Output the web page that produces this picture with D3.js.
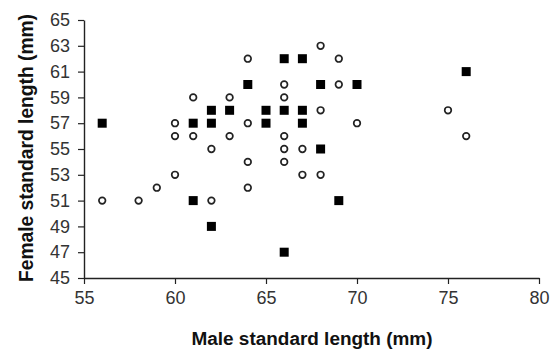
<!DOCTYPE html>
<html>
<head>
<meta charset="utf-8">
<script src="https://cdn.jsdelivr.net/npm/d3@7"></script>
<style>
  body { margin: 0; background: #fff; }
  svg { display: block; font-family: "Liberation Sans", Arial, sans-serif; }
</style>
</head>
<body>
<div id="chart"></div>
<script>
// filled squares: [male, female]
var squareMale = [56, 61, 62, 62, 63, 64, 65, 65, 66, 67, 68, 70, 76, 66, 67, 67, 68, 69, 66, 61, 62];
var squareFemale = [57, 57, 58, 57, 58, 60, 58, 57, 62, 62, 60, 60, 61, 58, 58, 57, 55, 51, 47, 51, 49];
// open circles
var circleMale = [56, 58, 59, 60, 62, 64, 60, 60, 61, 61, 62, 63, 63, 64, 64, 64, 68, 69, 66, 66, 69, 68, 70, 66, 66, 67, 66, 67, 68, 75, 76];
var circleFemale = [51, 51, 52, 53, 51, 52, 57, 56, 59, 56, 55, 59, 56, 62, 57, 54, 63, 62, 60, 59, 60, 58, 57, 56, 55, 55, 54, 53, 53, 58, 56];
var xTicks = [55, 60, 65, 70, 75, 80];
var yTicks = [45, 47, 49, 51, 53, 55, 57, 59, 61, 63, 65];

var width = 558, height = 349;
var margin = { top: 20, right: 19, bottom: 71, left: 84 };

var svg = d3.select("#chart").append("svg")
  .attr("width", width)
  .attr("height", height);

var x = d3.scaleLinear().domain([55, 80]).range([margin.left, width - margin.right]);
var y = d3.scaleLinear().domain([45, 65]).range([height - margin.bottom, margin.top]);

// axes
var xAxis = svg.append("g")
  .attr("transform", "translate(0," + y(45) + ")")
  .call(d3.axisBottom(x).tickValues(xTicks).tickSize(6).tickPadding(7).tickSizeOuter(0));
var yAxis = svg.append("g")
  .attr("transform", "translate(" + x(55) + ",0)")
  .call(d3.axisLeft(y).tickValues(yTicks).tickSize(6).tickPadding(8).tickSizeOuter(0));

[xAxis, yAxis].forEach(function (g) {
  g.select(".domain").attr("stroke", "#222").attr("stroke-width", 1.4);
  g.selectAll(".tick line").attr("stroke", "#222").attr("stroke-width", 1.2);
  g.selectAll(".tick text")
    .attr("fill", "#333")
    .attr("font-size", 18)
    .attr("font-family", "'Liberation Sans', Arial, sans-serif");
});

// squares
var sq = 9;
svg.append("g").selectAll("rect")
  .data(squareMale)
  .join("rect")
  .attr("x", (d) => x(d) - sq / 2)
  .attr("y", (d, i) => y(squareFemale[i]) - sq / 2)
  .attr("width", sq)
  .attr("height", sq)
  .attr("fill", "#000");

// circles
svg.append("g").selectAll("circle")
  .data(circleMale)
  .join("circle")
  .attr("cx", (d) => x(d))
  .attr("cy", (d, i) => y(circleFemale[i]))
  .attr("r", 3.3)
  .attr("fill", "#fff")
  .attr("stroke", "#222")
  .attr("stroke-width", 1.7);

// axis titles
svg.append("text")
  .attr("x", 312)
  .attr("y", 345)
  .attr("text-anchor", "middle")
  .attr("font-weight", "bold")
  .attr("font-size", 18)
  .attr("fill", "#111")
  .attr("textLength", 241)
  .attr("lengthAdjust", "spacingAndGlyphs")
  .text("Male standard length (mm)");

svg.append("text")
  .attr("transform", "translate(33,148) rotate(-90)")
  .attr("text-anchor", "middle")
  .attr("font-weight", "bold")
  .attr("font-size", 20)
  .attr("fill", "#111")
  .attr("textLength", 268)
  .attr("lengthAdjust", "spacingAndGlyphs")
  .text("Female standard length (mm)");
</script>
</body>
</html>
